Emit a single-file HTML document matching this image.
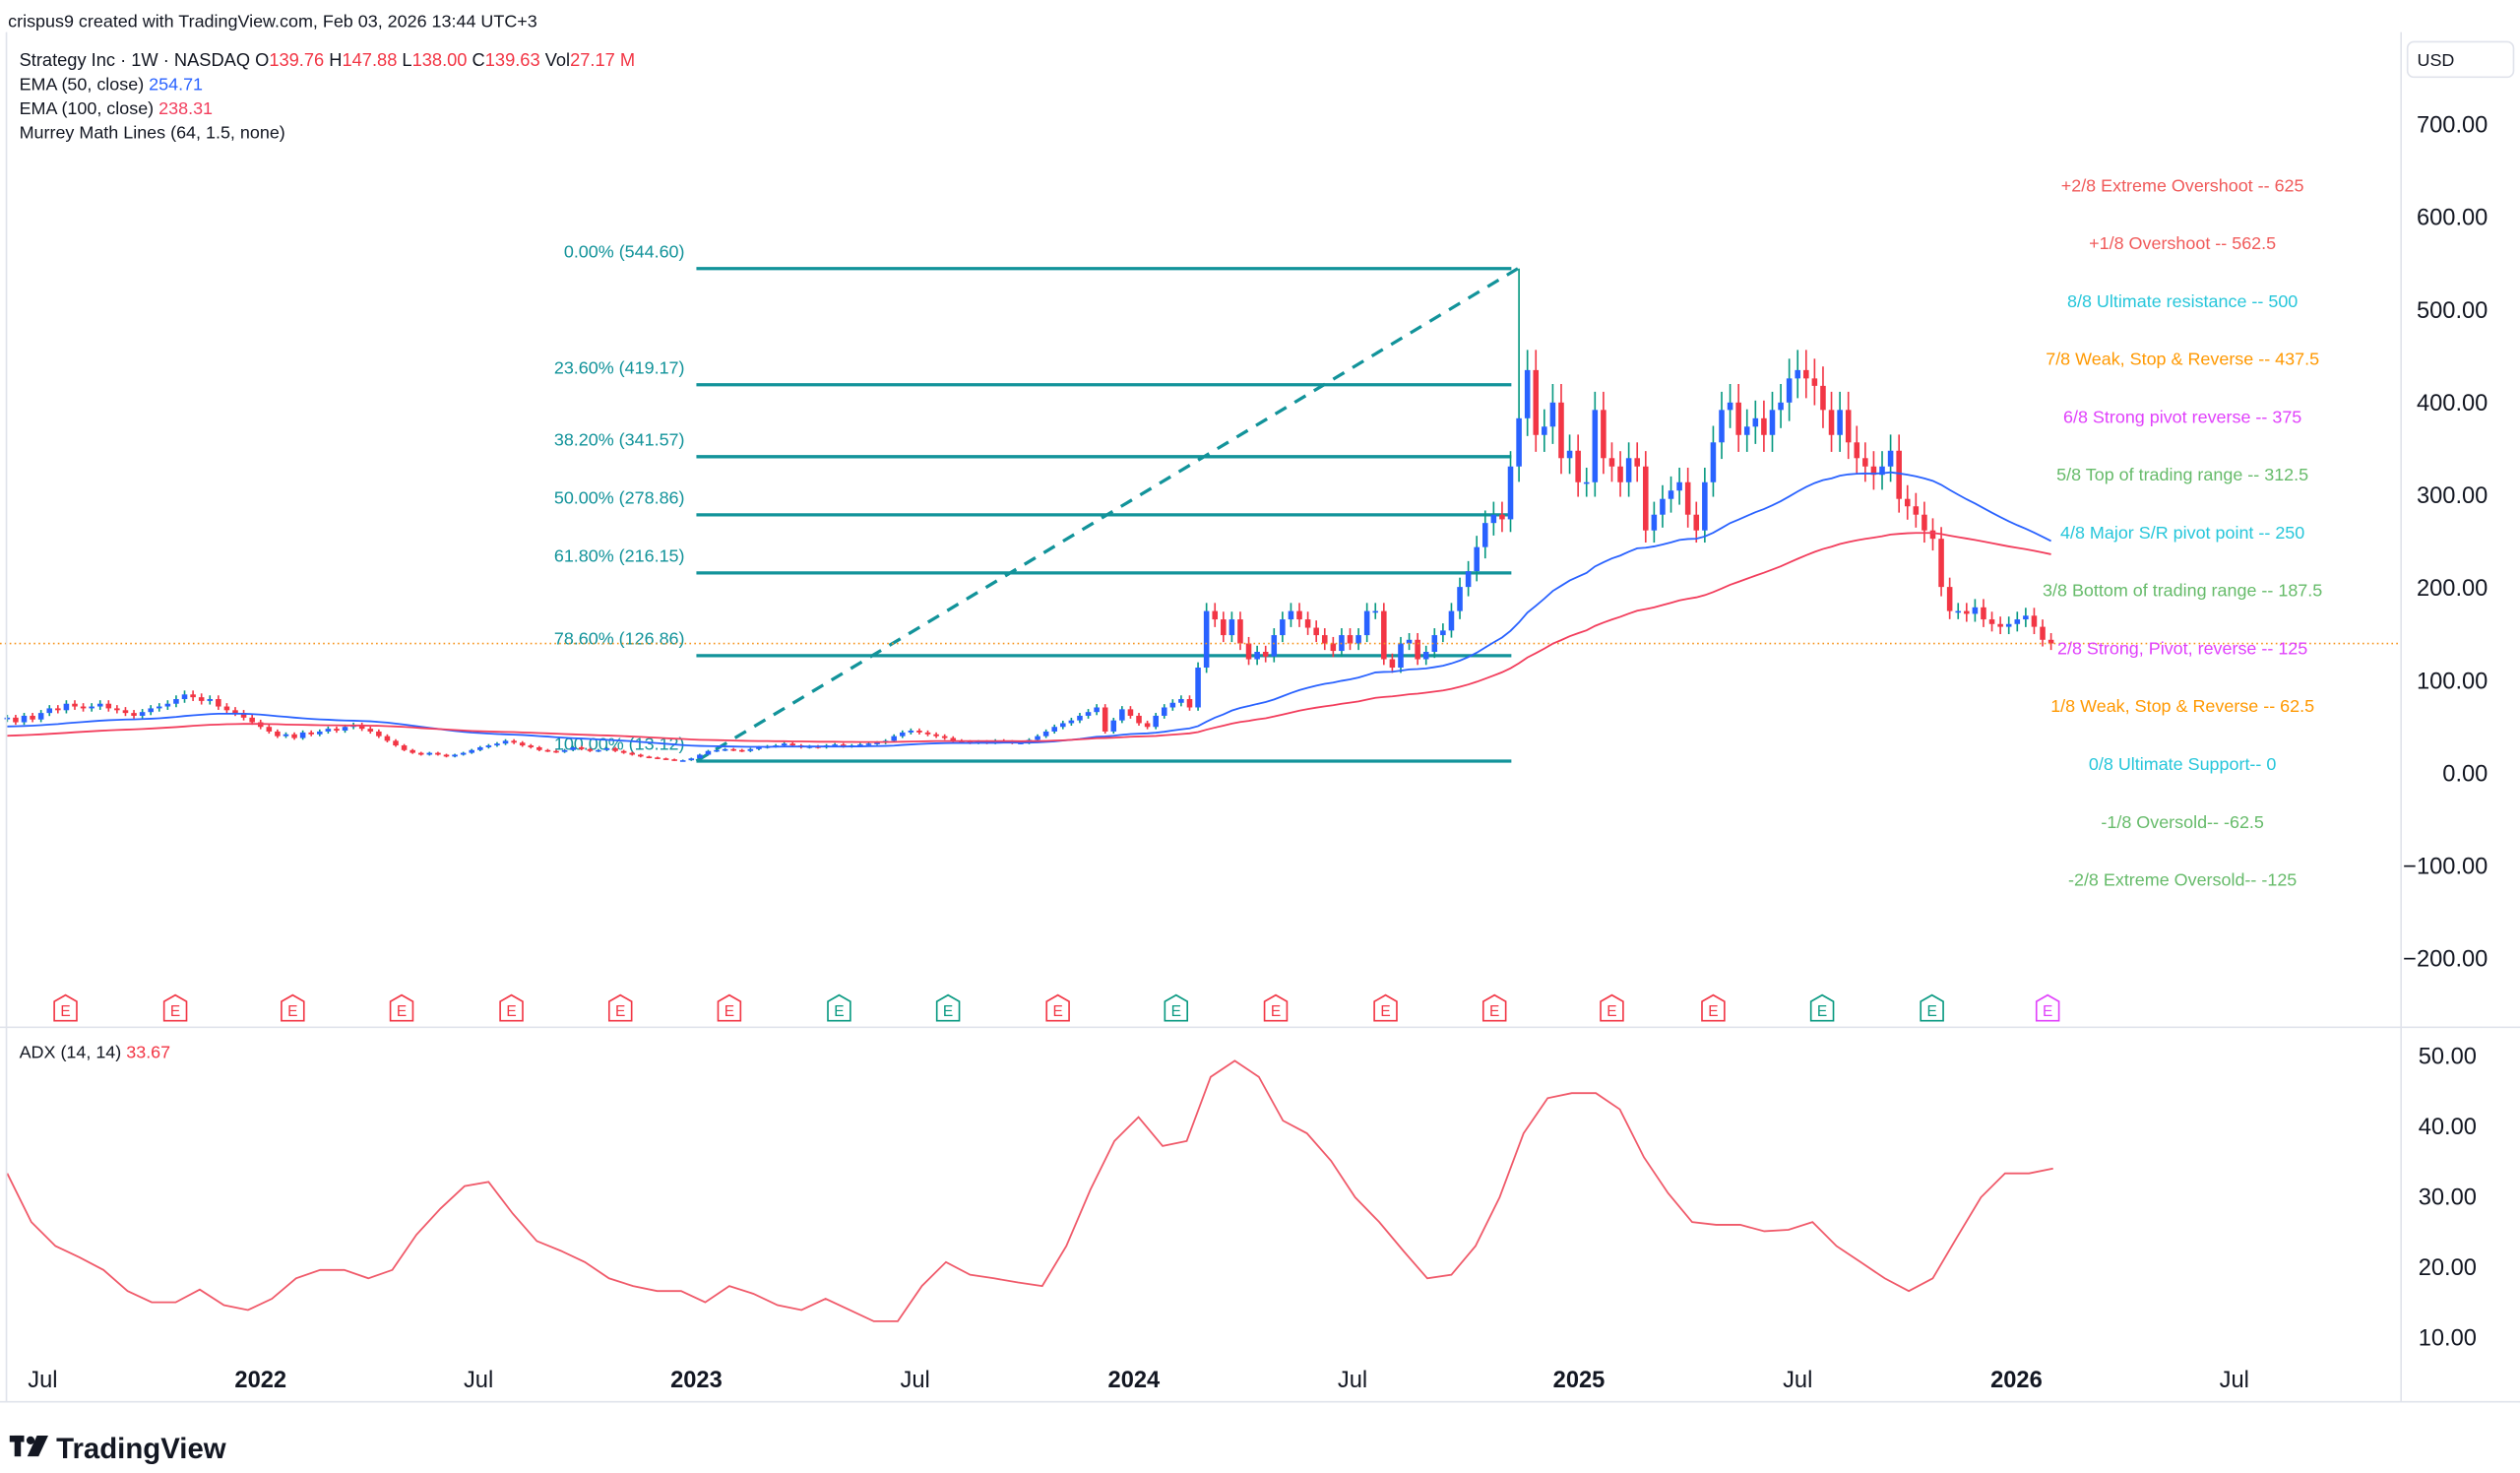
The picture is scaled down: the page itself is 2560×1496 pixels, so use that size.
<!DOCTYPE html>
<html><head><meta charset="utf-8"><title>Strategy Inc 1W</title>
<style>
html,body{margin:0;padding:0;background:#fff;}
svg{display:block;font-family:"Liberation Sans",Arial,sans-serif;}
</style></head>
<body>
<svg id="chart" width="2560" height="1496" viewBox="0 0 1568 916.3" preserveAspectRatio="none" xmlns="http://www.w3.org/2000/svg">
<rect x="0" y="0" width="1568" height="916.3" fill="#ffffff"/>
<g id="grid"></g>
<g id="fib"></g>
<g id="candles"></g>
<g id="emas"></g>
<g id="murrey"></g>
<g id="earn"></g>
<g id="adx"></g>
<g id="axes"></g>
<g>
<text x="5" y="17" font-size="11" fill="#131722">crispus9 created with TradingView.com, Feb 03, 2026 13:44 UTC+3</text>
<text x="12" y="41" font-size="11.2" fill="#131722">Strategy Inc · 1W · NASDAQ  O<tspan fill="#f23645">139.76</tspan>  H<tspan fill="#f23645">147.88</tspan>  L<tspan fill="#f23645">138.00</tspan>  C<tspan fill="#f23645">139.63</tspan>  Vol<tspan fill="#f23645">27.17 M</tspan></text>
<text x="12" y="56" font-size="11" fill="#131722">EMA (50, close)  <tspan fill="#2962ff">254.71</tspan></text>
<text x="12" y="71" font-size="11" fill="#131722">EMA (100, close)  <tspan fill="#f23d5c">238.31</tspan></text>
<text x="12" y="86" font-size="11" fill="#131722">Murrey Math Lines (64, 1.5, none)</text>
<text x="12" y="658" font-size="11" fill="#131722">ADX (14, 14)  <tspan fill="#f23645">33.67</tspan></text>
<rect x="1498" y="26" width="66" height="22" rx="4" fill="#fff" stroke="#e0e3eb"/>
<text x="1504" y="41" font-size="11" fill="#131722">USD</text>
</g>
<g>
<rect x="6" y="893" width="9" height="4" fill="#131722"/><rect x="9" y="893" width="4" height="13" fill="#131722"/>
<circle cx="19" cy="896" r="2.5" fill="#131722"/><path d="M23 893 L30 893 L24 906 L17 906 Z" fill="#131722"/>
<text x="35" y="907" font-size="18" font-weight="bold" fill="#131722">TradingView</text>
</g>
</svg>
<script>
// ---- data ----
const closes = [60,55,62,58,65,70,68,75,72,70,
72,75,70,68,65,62,66,70,72,75,
80,85,82,78,80,72,68,65,60,55,
50,45,40,42,38,44,42,45,48,46,
50,52,48,45,40,35,30,25,22,20,
22,20,18,20,22,25,28,30,32,35,
33,30,28,25,24,23,25,28,26,24,
25,27,24,22,20,18,17,16,15,14,
14,16,20,24,25,26,25,24,26,28,
29,30,32,30,28,29,28,30,31,29,
30,31,32,33,35,40,44,46,44,42,
40,38,35,34,33,34,33,35,34,33,
33,36,40,45,50,54,57,62,66,71,
45,57,69,62,54,50,62,71,76,80,
71,114,175,166,149,166,140,123,131,126,149,166,175,166,157,149,140,132,149,140,149,175,175,123,114,140,144,123,131,149,154,175,201,218,244,270,279,274,331,383,435,365,374,400,340,348,314,314,392,340,331,314,340,331,262,279,296,305,314,279,262,314,357,392,400,365,374,383,365,392,400,426,435,426,418,392,365,392,357,340,331,322,331,348,296,288,279,262,253,201,175,175,172,179,166,161,158,161,166,170,158,144,140];
const spikeWeek = 179;
const spikeHigh = 544.6;
const ema50Seed = 50;
const ema100Seed = 40;
const priceTicks = [700,600,500,400,300,200,100,0,-100,-200];
const adxTicks = [50,40,30,20,10];
const adxVals = [33.3,26.4,23,21.4,19.6,16.6,15,15,16.8,14.6,13.9,15.5,18.4,19.6,19.6,18.4,19.6,24.6,28.3,31.5,32.1,27.6,23.7,22.3,20.7,18.4,17.3,16.6,16.6,15,17.3,16.2,14.6,13.9,15.5,13.9,12.3,12.3,17.3,20.7,18.9,18.4,17.8,17.3,23,31,37.9,41.3,37.2,37.9,47,49.3,47,40.8,39,35.1,29.9,26.4,22.3,18.4,18.9,23,29.9,39,44,44.7,44.7,42.4,35.6,30.5,26.4,26,26,25.1,25.3,26.4,23,20.7,18.4,16.6,18.4,24.2,29.9,33.3,33.3,34];
const timeLabels = ["Jul","2022","Jul","2023","Jul","2024","Jul","2025","Jul","2026","Jul"];
const timeLabelWeeks = [4.2,30,55.8,81.6,107.5,133.4,159.3,186.1,212,237.9,263.7];
const fibRatios = ["0.00%","23.60%","38.20%","50.00%","61.80%","78.60%","100.00%"];
const fibPrices = [544.60,419.17,341.57,278.86,216.15,126.86,13.12];
const fibStartWeek = 81.6;
const fibEndWeek = 178.1;
const murreyLabels = ["+2/8 Extreme Overshoot --  625","+1/8 Overshoot --  562.5","8/8 Ultimate resistance --  500","7/8 Weak, Stop & Reverse --  437.5","6/8 Strong pivot reverse --  375","5/8 Top of trading range --  312.5","4/8 Major S/R pivot point --  250","3/8 Bottom of trading range --  187.5","2/8 Strong, Pivot, reverse --  125","1/8 Weak, Stop & Reverse --  62.5","0/8 Ultimate Support--  0","-1/8 Oversold--  -62.5","-2/8 Extreme Oversold--  -125"];
const murreyColors = ["#f05a5a","#f05a5a","#26c6da","#ff9800","#e040fb","#66bb6a","#26c6da","#66bb6a","#e040fb","#ff9800","#26c6da","#66bb6a","#66bb6a"];
const earnWeeks = [6.9,19.9,33.8,46.7,59.7,72.6,85.5,98.5,111.4,124.4,138.4,150.2,163.2,176.1,190,202,214.9,227.9,241.6];
const earnTypes = ["r","r","r","r","r","r","r","g","g","r","g","r","r","r","r","r","g","g","p"];

// ---- scales ----
const N = closes.length;
const x0 = 4.5;
const step = 5.255;
const xw = w => x0 + w * step;
const yp = p => 481 - p * 0.5765;
const ya = v => 832 - (v - 10) * 4.38;
const NS = "http://www.w3.org/2000/svg";
function mk(tag, attrs, parent){const e=document.createElementNS(NS,tag);for(const k in attrs)e.setAttribute(k,attrs[k]);parent.appendChild(e);return e;}

// ---- axes / frame ----
const ax = document.getElementById('axes');
mk('line',{x1:1494,y1:20,x2:1494,y2:872,stroke:'#e0e3eb','stroke-width':1},ax);
mk('line',{x1:0,y1:639,x2:1568,y2:639,stroke:'#e0e3eb','stroke-width':1},ax);
mk('line',{x1:0,y1:872,x2:1568,y2:872,stroke:'#e0e3eb','stroke-width':1},ax);
mk('line',{x1:4,y1:20,x2:4,y2:872,stroke:'#e0e3eb','stroke-width':1},ax);
priceTicks.forEach(v=>{
  const t=mk('text',{x:1548,y:yp(v)+5,'font-size':14.5,'text-anchor':'end',fill:'#131722'},ax);
  
  
  t.textContent=v.toFixed(2).replace('-','\u2212');
});
adxTicks.forEach(v=>{
  const t=mk('text',{x:1541,y:ya(v)+5,'font-size':14.5,'text-anchor':'end',fill:'#131722'},ax);
  
  
  t.textContent=v.toFixed(2);
});
timeLabels.forEach((s,i)=>{
  const bold=/^\d/.test(s);
  const t=mk('text',{x:xw(timeLabelWeeks[i]),y:863,'font-size':14.5,'text-anchor':'middle',fill:'#131722','font-weight':bold?'bold':'normal'},ax);
  
  
  t.textContent=s;
});

// ---- fib ----
const fg=document.getElementById('fib');
const fx1=xw(fibStartWeek), fx2=xw(fibEndWeek);
fibPrices.forEach((p,i)=>{
  const l=mk('line',{x1:fx1,y1:yp(p),x2:fx2,y2:yp(p),stroke:'#12939a','stroke-width':2},fg);
  
  
  const t=mk('text',{x:426,y:yp(p)-7,'font-size':11,'text-anchor':'end',fill:'#12939a'},fg);
  
  
  t.textContent=fibRatios[i]+' ('+fibPrices[i].toFixed(2)+')';
});
const dl=mk('line',{x1:fx1,y1:yp(fibPrices[6]),x2:fx2+4,y2:yp(fibPrices[0]),stroke:'#12939a','stroke-width':2,'stroke-dasharray':'8,6'},fg);



// ---- candles ----
const cg=document.getElementById('candles');
const cw=3.4;
for(let i=0;i<N;i++){
  const c=closes[i], o=i>0?closes[i-1]:c*0.97;
  const up=c>=o;
  let hi=Math.max(o,c)*1.05, lo=Math.min(o,c)*0.95;
  if(i===spikeWeek) hi=spikeHigh;
  const x=xw(i);
  const w=mk('line',{x1:x,y1:yp(hi),x2:x,y2:yp(lo),stroke:up?'#089981':'#f23645','stroke-width':1},cg);
  
  
  const top=yp(Math.max(o,c)), bh=Math.max(1,yp(Math.min(o,c))-top);
  const b=mk('rect',{x:x-cw/2,y:top,width:cw,height:bh,fill:up?'#2962ff':'#f23645'},cg);
  
  
}
const pl=mk('line',{x1:0,y1:yp(closes[N-1]),x2:1494,y2:yp(closes[N-1]),stroke:'#f7931a','stroke-width':1,'stroke-dasharray':'1,2'},cg);



// ---- EMAs ----
const eg=document.getElementById('emas');
function ema(n,seed){let e=seed,k=2/(n+1),out=[];closes.forEach(c=>{e=c*k+e*(1-k);out.push(e);});return out;}
function path(arr){return arr.map((v,i)=>(i?'L':'M')+xw(i).toFixed(1)+' '+yp(v).toFixed(1)).join(' ');}
const e50=mk('path',{d:path(ema(50,ema50Seed)),fill:'none',stroke:'#2962ff','stroke-width':1.1},eg);


const e100=mk('path',{d:path(ema(100,ema100Seed)),fill:'none',stroke:'#f23d5c','stroke-width':1.1},eg);



// ---- Murrey ----
const mg=document.getElementById('murrey');
murreyLabels.forEach((s,i)=>{
  const t=mk('text',{x:1358,y:119+i*36,'font-size':11,'text-anchor':'middle',fill:murreyColors[i]},mg);
  
  
  t.textContent=s;
});

// ---- earnings ----
const eng=document.getElementById('earn');
const ecol={r:'#f23645',g:'#089981',p:'#e040fb'};
earnWeeks.forEach((w,i)=>{
  const x=xw(w), col=ecol[earnTypes[i]];
  const p=mk('path',{d:`M${x-7} 623 L${x} 619 L${x+7} 623 L${x+7} 635 L${x-7} 635 Z`,fill:'#fff',stroke:col,'stroke-width':1},eng);
  
  
  const t=mk('text',{x:x,y:632,'font-size':9.5,'text-anchor':'middle',fill:col},eng);
  t.textContent='E';
});

// ---- ADX ----
const ag=document.getElementById('adx');
const adxStep = 2.85;
const ad=adxVals.map((v,i)=>(i?'L':'M')+xw(i*adxStep).toFixed(1)+' '+ya(v).toFixed(1)).join(' ');
const al=mk('path',{d:ad,fill:'none',stroke:'#f05a6a','stroke-width':1.1},ag);


</script>
</body></html>
